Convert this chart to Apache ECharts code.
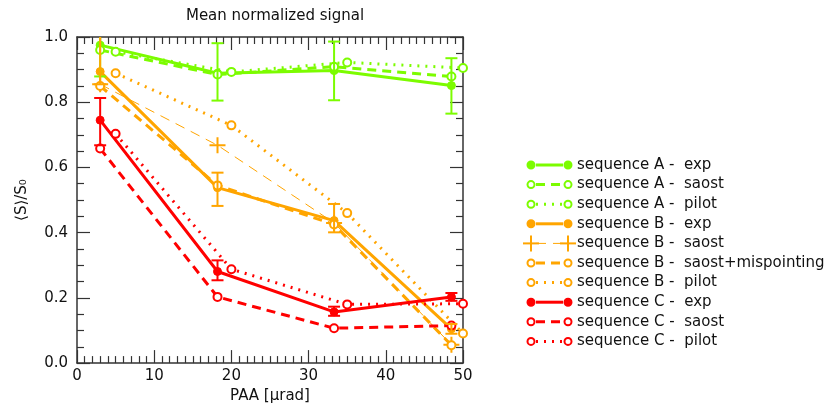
<!DOCTYPE html>
<html>
<head>
<meta charset="utf-8">
<script src="https://cdn.jsdelivr.net/npm/echarts@6/dist/echarts.min.js"></script>
<style>html,body{margin:0;padding:0;background:#fff}#c{width:834px;height:409px}</style>
</head>
<body>
<div id="c"></div>
<script>
// ---------- data ----------
const X_EXP = [3, 18.2, 33.3, 48.5];
const X_PILOT = [5, 20, 35, 50];

const A_EXP = [0.975, 0.889, 0.897, 0.851];
const A_EXP_LO = [0.879, 0.805, 0.806, 0.765];
const A_EXP_HI = [1.07, 0.981, 0.986, 0.935];
const A_SAOST = [0.96, 0.885, 0.909, 0.879];
const A_PILOT = [0.955, 0.893, 0.922, 0.905];

const B_EXP = [0.894, 0.538, 0.437, 0.105];
const B_EXP_LO = [0.855, 0.482, 0.401, 0.09];
const B_EXP_HI = [1.05, 0.584, 0.488, 0.12];
const B_SAOST = [0.855, 0.668, 0.43, 0.056];
const B_MISP = [0.85, 0.545, 0.425, 0.055];
const B_PILOT = [0.889, 0.729, 0.46, 0.091];

const C_EXP = [0.745, 0.281, 0.157, 0.203];
const C_EXP_LO = [0.668, 0.254, 0.145, 0.191];
const C_EXP_HI = [0.813, 0.315, 0.173, 0.215];
const C_SAOST = [0.658, 0.203, 0.107, 0.115];
const C_PILOT = [0.703, 0.288, 0.18, 0.182];

const NAMES = [
  'sequence A -  exp', 'sequence A -  saost', 'sequence A -  pilot',
  'sequence B -  exp', 'sequence B -  saost', 'sequence B -  saost+mispointing', 'sequence B -  pilot',
  'sequence C -  exp', 'sequence C -  saost', 'sequence C -  pilot'
];
const Y_TICKS = [0, 0.2, 0.4, 0.6, 0.8, 1.0];
const X_TICKS = [0, 10, 20, 30, 40, 50];

// ---------- styles ----------
const GREEN = '#7cfc00', ORANGE = '#ffa500', RED = '#ff0000';
const DASH = [9, 6], DOT = [2, 6], THIN_DASH = [10, 7];
const CROSS = 'path://M7,0H9V16H7Z M0,7H16V9H0Z';

const defs = [
  {name: NAMES[0], x: X_EXP, y: A_EXP, color: GREEN, dash: 'solid', w: 3, sym: 'circle', lo: A_EXP_LO, hi: A_EXP_HI},
  {name: NAMES[1], x: X_EXP, y: A_SAOST, color: GREEN, dash: DASH, w: 3, sym: 'emptyCircle'},
  {name: NAMES[2], x: X_PILOT, y: A_PILOT, color: GREEN, dash: DOT, w: 3, sym: 'emptyCircle'},
  {name: NAMES[3], x: X_EXP, y: B_EXP, color: ORANGE, dash: 'solid', w: 3, sym: 'circle', lo: B_EXP_LO, hi: B_EXP_HI},
  {name: NAMES[4], x: X_EXP, y: B_SAOST, color: ORANGE, dash: THIN_DASH, w: 1, sym: 'cross'},
  {name: NAMES[5], x: X_EXP, y: B_MISP, color: ORANGE, dash: DASH, w: 3, sym: 'emptyCircle'},
  {name: NAMES[6], x: X_PILOT, y: B_PILOT, color: ORANGE, dash: DOT, w: 3, sym: 'emptyCircle'},
  {name: NAMES[7], x: X_EXP, y: C_EXP, color: RED, dash: 'solid', w: 3, sym: 'circle', lo: C_EXP_LO, hi: C_EXP_HI},
  {name: NAMES[8], x: X_EXP, y: C_SAOST, color: RED, dash: DASH, w: 3, sym: 'emptyCircle'},
  {name: NAMES[9], x: X_PILOT, y: C_PILOT, color: RED, dash: DOT, w: 3, sym: 'emptyCircle'}
];

const FONT = 'DejaVu Sans';
const AX = '#333';

const series = [];
defs.forEach(d => {
  const pts = d.x.map((x, i) => [x, d.y[i]]);
  const isCross = d.sym === 'cross';
  series.push({
    name: d.name, type: 'line', data: pts, clip: true,
    symbol: isCross ? CROSS : 'circle',
    symbolSize: isCross ? 16 : 8,
    showSymbol: true,
    lineStyle: {color: d.color, width: d.w, type: d.dash},
    itemStyle: isCross ? {color: d.color} :
      (d.sym === 'circle' ? {color: d.color, borderColor: d.color, borderWidth: 1}
                          : {color: '#fff', borderColor: d.color, borderWidth: 2}),
    emphasis: {disabled: true}, animation: false, z: 3
  });
  if (d.lo) {
    const edata = d.x.map((x, i) => [x, d.lo[i], d.hi[i]]);
    series.push({
      name: d.name + ' err', type: 'custom', data: edata, clip: true, z: 4,
      renderItem: (params, api) => {
        const x = api.value(0);
        const lo = api.coord([x, api.value(1)]);
        const hi = api.coord([x, api.value(2)]);
        const cw = 6;
        const st = {stroke: d.color, lineWidth: 2};
        return {type: 'group', children: [
          {type: 'line', shape: {x1: lo[0], y1: lo[1], x2: hi[0], y2: hi[1]}, style: st},
          {type: 'line', shape: {x1: lo[0] - cw, y1: lo[1], x2: lo[0] + cw, y2: lo[1]}, style: st},
          {type: 'line', shape: {x1: hi[0] - cw, y1: hi[1], x2: hi[0] + cw, y2: hi[1]}, style: st}
        ]};
      },
      animation: false
    });
  }
});

// ---------- legend drawn as graphic ----------
const LX0 = 531, LX1 = 568, LTX = 577, LY0 = 165, LDY = 19.6;
const legendEls = [];
defs.forEach((d, i) => {
  const y = LY0 + i * LDY;
  legendEls.push({type: 'line', shape: {x1: LX0 + 5, y1: y, x2: LX1 - 5, y2: y},
    style: {stroke: d.color, lineWidth: d.w, lineDash: d.dash === 'solid' ? null : d.dash}});
  [LX0, LX1].forEach(cx => {
    if (d.sym === 'cross') {
      legendEls.push({type: 'line', shape: {x1: cx - 8, y1: y, x2: cx + 8, y2: y}, style: {stroke: d.color, lineWidth: 2}});
      legendEls.push({type: 'line', shape: {x1: cx, y1: y - 8, x2: cx, y2: y + 8}, style: {stroke: d.color, lineWidth: 2}});
    } else {
      legendEls.push({type: 'circle', shape: {cx: cx, cy: y, r: 3.5},
        style: {fill: d.sym === 'circle' ? d.color : '#fff', stroke: d.color, lineWidth: 2}});
    }
  });
  legendEls.push({type: 'text', x: LTX, y: y, style: {text: d.name, font: '15px "' + FONT + '"', fill: '#111', verticalAlign: 'middle', align: 'left'}});
});

const axisCommon = {
  type: 'value',
  axisLine: {show: true, onZero: false, lineStyle: {color: AX, width: 1.5}},
  axisTick: {show: true, inside: true, length: 13, lineStyle: {color: AX, width: 1.2}},
  minorTick: {show: true, length: 7, lineStyle: {color: AX, width: 1.2}},
  splitLine: {show: false},
  minorSplitLine: {show: false}
};

const option = {
  backgroundColor: '#fff',
  animation: false,
  textStyle: {fontFamily: FONT},
  title: {text: 'Mean normalized signal', left: 270, top: 4, textAlign: 'center',
    textStyle: {fontFamily: FONT, fontSize: 15, fontWeight: 'normal', color: '#111'}},
  grid: {left: 77, right: 371, top: 37, bottom: 44, containLabel: false},
  xAxis: [
    Object.assign({}, axisCommon, {position: 'bottom', min: X_TICKS[0], max: X_TICKS[X_TICKS.length - 1], interval: 10,
      minorTick: Object.assign({}, axisCommon.minorTick, {splitNumber: 10}),
      axisLabel: {color: '#111', fontSize: 15, fontFamily: FONT, margin: 6},
      name: 'PAA [µrad]', nameLocation: 'middle', nameGap: 25,
      nameTextStyle: {fontSize: 15, color: '#111', fontFamily: FONT}}),
    Object.assign({}, axisCommon, {position: 'top', min: X_TICKS[0], max: X_TICKS[X_TICKS.length - 1], interval: 10,
      minorTick: Object.assign({}, axisCommon.minorTick, {splitNumber: 10}),
      axisLabel: {show: false}})
  ],
  yAxis: [
    Object.assign({}, axisCommon, {position: 'left', min: Y_TICKS[0], max: Y_TICKS[Y_TICKS.length - 1], interval: 0.2,
      minorTick: Object.assign({}, axisCommon.minorTick, {splitNumber: 4}),
      axisLabel: {color: '#111', fontSize: 15, fontFamily: FONT, margin: 9, formatter: v => v.toFixed(1)},
      name: '⟨S⟩/S₀', nameLocation: 'middle', nameGap: 47, nameRotate: 90,
      nameTextStyle: {fontSize: 15, color: '#111', fontFamily: FONT}}),
    Object.assign({}, axisCommon, {position: 'right', min: Y_TICKS[0], max: Y_TICKS[Y_TICKS.length - 1], interval: 0.2,
      minorTick: Object.assign({}, axisCommon.minorTick, {splitNumber: 4}),
      axisLabel: {show: false}})
  ],
  series: series,
  graphic: legendEls
};

const chart = echarts.init(document.getElementById('c'), null, {renderer: 'canvas'});
chart.setOption(option);
</script>
</body>
</html>
